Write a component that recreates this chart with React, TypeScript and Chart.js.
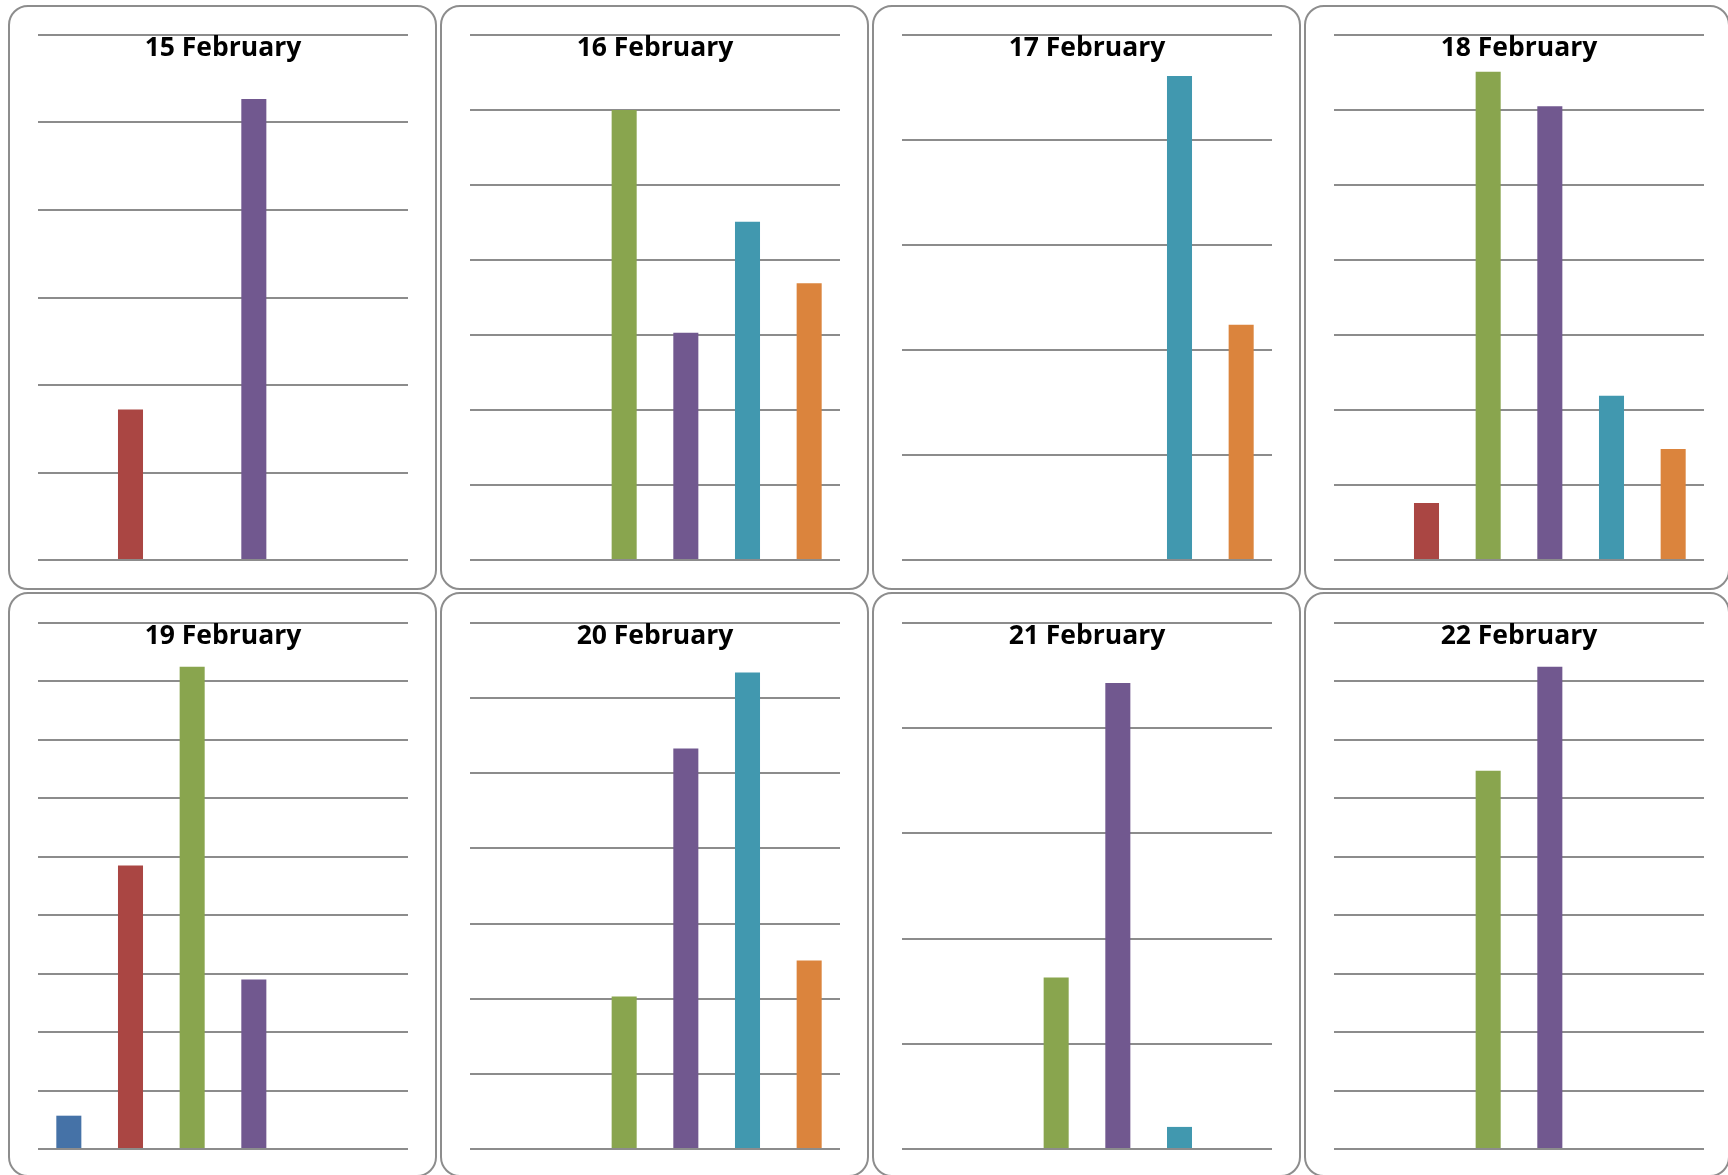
import React, { useEffect, useRef } from "react";
import { Chart, registerables } from "chart.js";

Chart.register(...registerables);

// Six categories, shown only by colour in the reference
const CATEGORIES = ["Category 1", "Category 2", "Category 3", "Category 4", "Category 5", "Category 6"];
const CATEGORY_COLORS = ["#4572A7", "#AA4643", "#89A54E", "#71588F", "#4198AF", "#DB843D"];

const DAY_TITLES = [
  "15 February",
  "16 February",
  "17 February",
  "18 February",
  "19 February",
  "20 February",
  "21 February",
  "22 February",
];

// Values per day (in gridline units; null = no bar)
const FEB_15 = [null, 1.72, null, 5.27, null, null];
const FEB_16 = [null, null, 6.0, 3.03, 4.51, 3.69];
const FEB_17 = [null, null, null, null, 4.61, 2.24];
const FEB_18 = [null, 0.76, 6.51, 6.05, 2.19, 1.48];
const FEB_19 = [0.57, 4.85, 8.25, 2.9, null, null];
const FEB_20 = [null, null, 2.03, 5.33, 6.34, 2.51];
const FEB_21 = [null, null, 1.63, 4.43, 0.21, null];
const FEB_22 = [null, null, 6.47, 8.25, null, null];

const DAY_VALUES = [FEB_15, FEB_16, FEB_17, FEB_18, FEB_19, FEB_20, FEB_21, FEB_22];

// Axis maximum per day (gridlines every 1 unit)
const AXIS_MAX = [6, 7, 5, 7, 9, 7, 5, 9];
const AXIS_STEP = [1, 1, 1, 1, 1, 1, 1, 1];

const GRID = "#8c8c8c";
const TITLE_SIZE = 26.5;

function DayChart({ index, padTop, height }: { index: number; padTop: number; height: number }) {
  const ref = useRef<HTMLCanvasElement | null>(null);

  useEffect(() => {
    if (!ref.current) return;
    const chart = new Chart(ref.current, {
      type: "bar",
      data: {
        labels: CATEGORIES,
        datasets: [
          {
            label: DAY_TITLES[index],
            data: DAY_VALUES[index] as any,
            backgroundColor: CATEGORY_COLORS,
            borderColor: CATEGORY_COLORS,
            borderWidth: 0,
            barPercentage: 0.406,
            categoryPercentage: 1,
          },
        ],
      },
      options: {
        responsive: false,
        animation: false,
        events: [],
        layout: { padding: { top: padTop, bottom: 4, left: 0, right: 0 } },
        plugins: {
          legend: { display: false },
          tooltip: { enabled: false },
          title: {
            display: true,
            text: DAY_TITLES[index],
            color: "#000000",
            font: { family: "'Open Sans', sans-serif", weight: "bold", size: TITLE_SIZE, lineHeight: 1 },
            padding: { top: 0, bottom: -TITLE_SIZE },
          },
        },
        scales: {
          x: { display: false },
          y: {
            min: 0,
            max: AXIS_MAX[index],
            ticks: { display: false, stepSize: AXIS_STEP[index] },
            grid: { color: GRID, lineWidth: 2, drawTicks: false },
            border: { display: false },
          },
        },
      },
    });
    return () => chart.destroy();
  }, [index, padTop, height]);

  return <canvas ref={ref} width={370} height={height} style={{ display: "block" }} />;
}

export default function App() {
  return (
    <div
      style={{
        position: "absolute",
        left: 0,
        top: 0,
        width: 1728,
        height: 1175,
        overflow: "hidden",
        background: "#ffffff",
      }}
    >
      {DAY_TITLES.map((t, i) => {
        const col = i % 4;
        const row = Math.floor(i / 4);
        const left = 8 + col * 432;
        const top = row === 0 ? 5 : 592;
        const width = col === 3 ? 426 : 429;
        const canvasTop = row === 0 ? 23 : 25;
        const padTop = row === 0 ? 5 : 4;
        const height = row === 0 ? 534 : 534;
        return (
          <div
            key={t}
            style={{
              position: "absolute",
              left,
              top,
              width,
              height: 585,
              boxSizing: "border-box",
              border: "2px solid #8d8d8d",
              borderRadius: 20,
              background: "#ffffff",
            }}
          >
            <div style={{ position: "absolute", left: 28, top: canvasTop }}>
              <DayChart index={i} padTop={padTop} height={height} />
            </div>
          </div>
        );
      })}
    </div>
  );
}
